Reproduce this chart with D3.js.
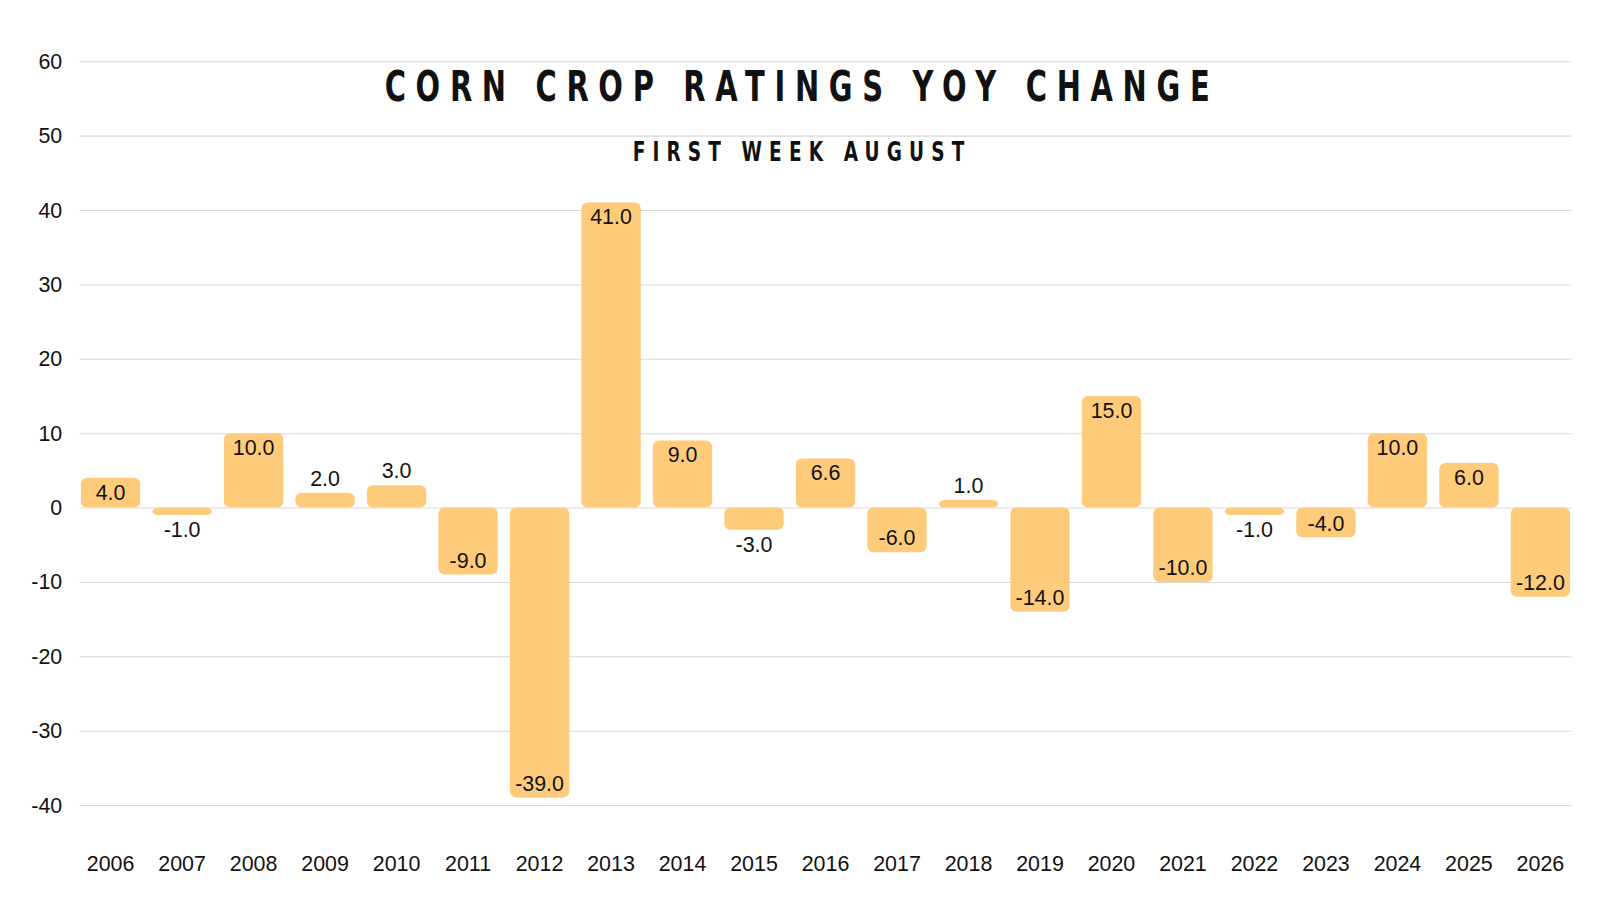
<!DOCTYPE html>
<html>
<head>
<meta charset="utf-8">
<script src="https://cdn.jsdelivr.net/npm/d3@7"></script>
<style>
  body { margin: 0; background: #fff; }
  svg { display: block; }
</style>
</head>
<body>
<div id="chart"></div>
<script>
const years = ['2006','2007','2008','2009','2010','2011','2012','2013','2014','2015','2016',
  '2017','2018','2019','2020','2021','2022','2023','2024','2025','2026'];
const changes = [4, -1, 10, 2, 3, -9, -39, 41, 9, -3, 6.6, -6, 1, -14, 15, -10, -1, -4, 10, 6, -12];
const yTicks = [-40, -30, -20, -10, 0, 10, 20, 30, 40, 50, 60];

const svg = d3.select('#chart').append('svg')
  .attr('width', 1600)
  .attr('height', 900)
  .attr('viewBox', '0 0 1568 882');

const x = d3.scaleBand().domain(years).range([73, 1545]).paddingInner(0.17).paddingOuter(0.09);
const y = d3.scaleLinear().domain([-40, 60]).range([789, 60]);

// gridlines
svg.append('g')
  .attr('transform', 'translate(78,0)')
  .call(d3.axisLeft(y).tickValues(yTicks).tickFormat('').tickSize(-1462))
  .call((g) => g.select('.domain').remove())
  .call((g) => g.selectAll('line').attr('stroke', '#d9d9d9'));

// y labels
svg.append('g')
  .selectAll('text')
  .data(yTicks)
  .join('text')
  .attr('x', 61)
  .attr('y', (d) => y(d))
  .attr('dy', '0.35em')
  .attr('text-anchor', 'end')
  .attr('font-family', 'Liberation Sans, Arial, sans-serif')
  .attr('font-size', 21)
  .attr('fill', '#111')
  .text((d) => d);

const rows = years.map((yr, i) => ({ yr, v: changes[i] }));

svg.append('g')
  .selectAll('rect')
  .data(rows)
  .join('rect')
  .attr('x', (d) => x(d.yr))
  .attr('width', x.bandwidth())
  .attr('y', (d) => y(Math.max(0, d.v)))
  .attr('height', (d) => Math.abs(y(d.v) - y(0)))
  .attr('rx', 6)
  .attr('fill', '#fecb7a');

svg.append('g')
  .selectAll('text')
  .data(rows)
  .join('text')
  .attr('x', (d) => x(d.yr) + x.bandwidth() / 2)
  .attr('y', (d) => {
    const h = Math.abs(y(d.v) - y(0));
    const inside = h > 25;
    if (d.v >= 0) return inside ? y(d.v) + 14 : y(d.v) - 14;
    return inside ? y(d.v) - 14 : y(d.v) + 14;
  })
  .attr('dy', '0.35em')
  .attr('text-anchor', 'middle')
  .attr('font-family', 'Liberation Sans, Arial, sans-serif')
  .attr('font-size', 21)
  .attr('fill', '#111')
  .text((d) => d.v.toFixed(1));

// x labels
svg.append('g')
  .selectAll('text')
  .data(years)
  .join('text')
  .attr('x', (d) => x(d) + x.bandwidth() / 2)
  .attr('y', 846)
  .attr('dy', '0.35em')
  .attr('text-anchor', 'middle')
  .attr('font-family', 'Liberation Sans, Arial, sans-serif')
  .attr('font-size', 21)
  .attr('fill', '#111')
  .text((d) => d);

svg.append('text')
  .attr('x', 377)
  .attr('y', 99)
  .attr('font-family', 'DejaVu Sans, sans-serif')
  .attr('font-weight', 'bold')
  .attr('font-size', 42)
  .attr('letter-spacing', 14)
  .attr('textLength', 818)
  .attr('lengthAdjust', 'spacingAndGlyphs')
  .attr('fill', '#111')
  .text('CORN CROP RATINGS YOY CHANGE');

svg.append('text')
  .attr('x', 620)
  .attr('y', 158)
  .attr('font-family', 'DejaVu Sans, sans-serif')
  .attr('font-weight', 'bold')
  .attr('font-size', 26)
  .attr('letter-spacing', 10)
  .attr('textLength', 332)
  .attr('lengthAdjust', 'spacingAndGlyphs')
  .attr('fill', '#111')
  .text('FIRST WEEK AUGUST');
</script>
</body>
</html>
